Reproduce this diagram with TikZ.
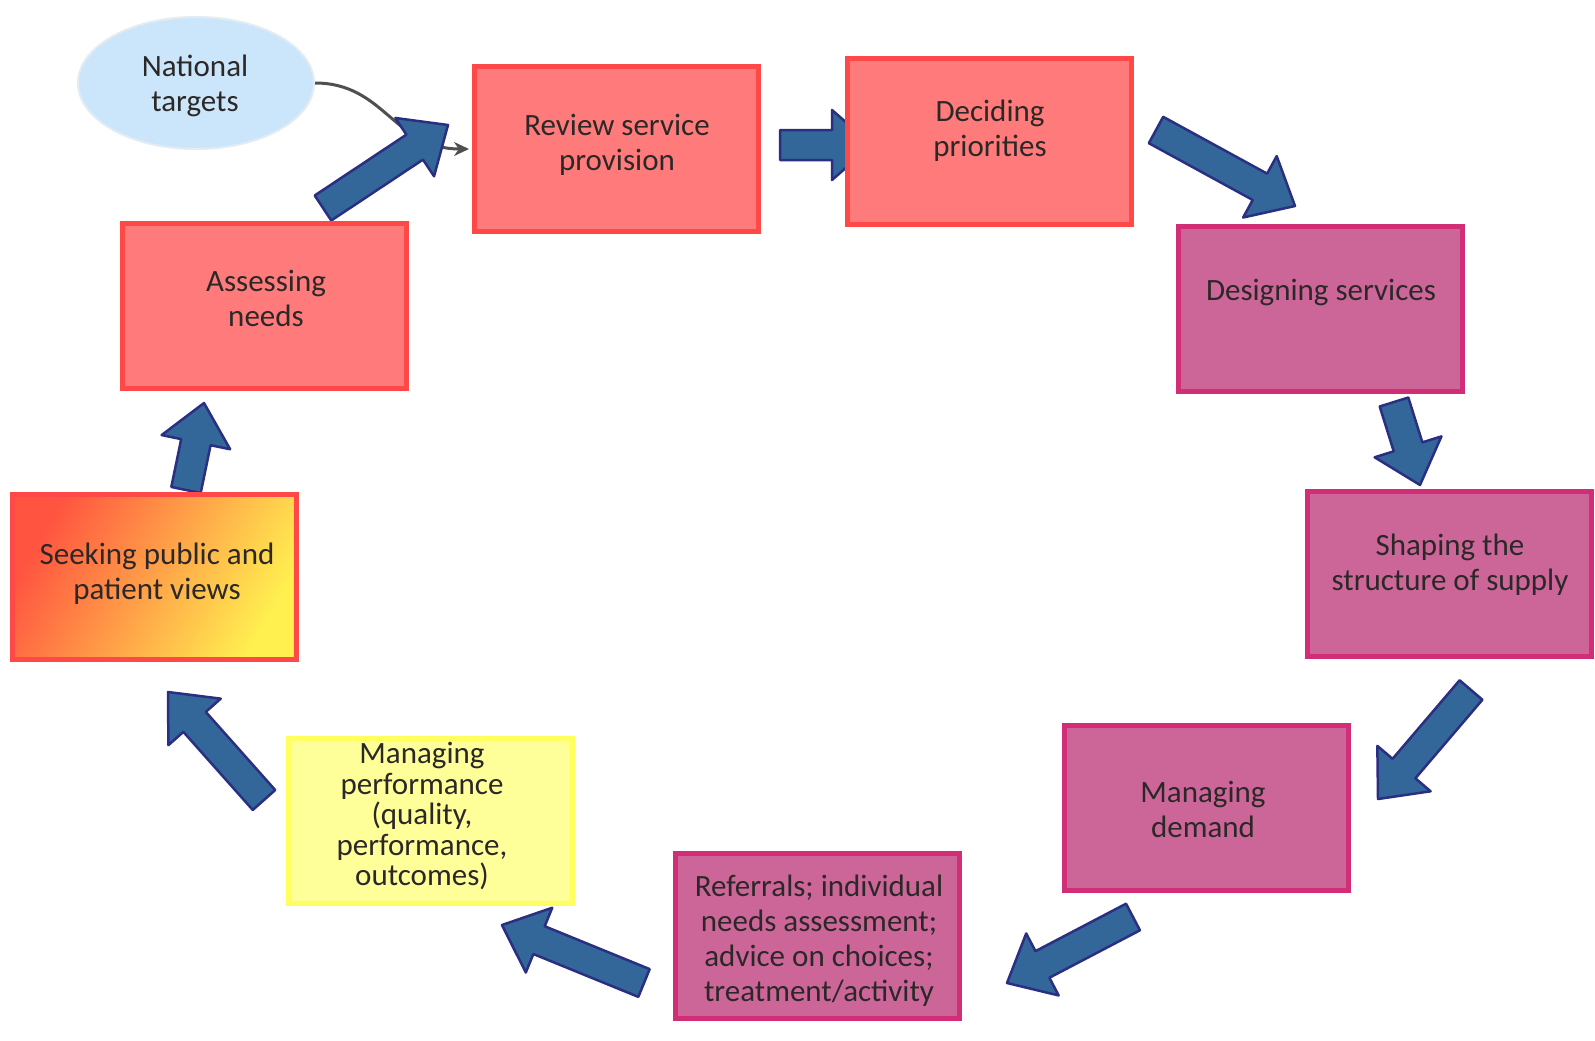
\documentclass[tikz,border=0pt]{standalone}
\usepackage{fontspec}
\setmainfont{Carlito}
\usetikzlibrary{shapes.geometric,calc,arrows.meta}

\definecolor{salmonfill}{HTML}{FF7B7B}
\definecolor{salmonline}{HTML}{FF4848}
\definecolor{plumfill}{HTML}{CC6699}
\definecolor{plumline}{HTML}{D22E78}
\definecolor{lemonfill}{HTML}{FFFF99}
\definecolor{lemonline}{HTML}{FFFF5E}
\definecolor{skyfill}{HTML}{CBE6FB}
\definecolor{skyline}{HTML}{E2ECF2}
\definecolor{seekred}{HTML}{FF5440}
\definecolor{seekorange}{HTML}{FF9A33}
\definecolor{seekyellow}{HTML}{FFF050}
\definecolor{arrowfill}{HTML}{336699}
\definecolor{arrowline}{HTML}{2B2F82}
\definecolor{feedline}{HTML}{505050}
\definecolor{inktext}{HTML}{2C2828}

\pgfdeclarelayer{paper}
\pgfdeclarelayer{behind}
\pgfsetlayers{paper,behind,main}

% block arrow from a tail coordinate to a tip coordinate
\newcommand\flowarrow[2]{%
  \coordinate (fa-base) at ($(#2)!40pt!(#1)$);
  \filldraw[flowarrow]
    ($(#1)!15pt!90:(#2)$) -- ($(fa-base)!15pt!90:(#2)$)
    -- ($(fa-base)!35pt!90:(#2)$) -- (#2)
    -- ($(fa-base)!35pt!-90:(#2)$) -- ($(fa-base)!15pt!-90:(#2)$)
    -- ($(#1)!15pt!-90:(#2)$) -- cycle;
}

\begin{document}
\begin{tikzpicture}[x=1pt,y=-1pt,
  box/.style={rectangle, minimum width=284pt, minimum height=165pt,
    inner sep=0pt, line width=5pt},
  redbox/.style={box, fill=salmonfill, draw=salmonline},
  pinkbox/.style={box, fill=plumfill, draw=plumline},
  yellowbox/.style={box, fill=lemonfill, draw=lemonline},
  caption/.style={align=center, text=inktext, inner sep=0pt,
    font=\fontsize{31}{35}\selectfont},
  tightcaption/.style={caption, font=\fontsize{31}{30.5}\selectfont},
  flowarrow/.style={fill=arrowfill, draw=arrowline, line width=2.5pt,
    line join=round},
  feed/.style={draw=feedline, line width=3pt,
    -{Stealth[length=15pt,width=14pt]}},
]
\useasboundingbox (0,0) rectangle (1595,1041);
\begin{pgfonlayer}{paper}
  \fill[white] (0,0) rectangle (1595,1041);
\end{pgfonlayer}

% stages of the cycle
\node[ellipse, minimum width=236pt, minimum height=132pt, fill=skyfill,
  draw=skyline, line width=2pt] (targets) at (196,83) {};
\node[redbox] (review) at (616.5,149) {};
\node[redbox] (deciding) at (989,141.5) {};
\node[pinkbox] (designing) at (1320,309) {};
\node[pinkbox] (shaping) at (1449.5,573.5) {};
\node[pinkbox] (demand) at (1206,807.5) {};
\node[pinkbox] (referrals) at (817.5,936) {};
\node[yellowbox] (performance) at (430,821) {};
\node[box, draw=salmonline, left color=seekred, middle color=seekorange,
  right color=seekyellow, shading angle=60] (seeking) at (154.5,576.5) {};
\node[redbox] (assessing) at (264.5,306) {};

% captions
\node[caption] (targets-text) at (195,86) {National\\targets};
\node[caption] (review-text) at (617,145) {Review service\\provision};
\node[caption] (deciding-text) at (990,131) {Deciding\\priorities};
\node[caption] (designing-text) at (1321,292) {Designing services};
\node[caption] (shaping-text) at (1450,565) {Shaping the\\structure of supply};
\node[caption] (demand-text) at (1203,809) {Managing\\demand};
\node[caption] (referrals-text) at (819,941)
  {Referrals; individual\\needs assessment;\\advice on choices;\\treatment/activity};
\node[tightcaption] (performance-text) at (422,816)
  {Managing\\performance\\(quality,\\performance,\\outcomes)};
\node[caption] (seeking-text) at (157,574) {Seeking public and\\patient views};
\node[caption] (assessing-text) at (266,298) {Assessing\\needs};

% arrows between the stages
\coordinate (a1t) at (323,208);   \coordinate (a1h) at (448,125);
\coordinate (a2t) at (780,145);   \coordinate (a2h) at (872,145);
\coordinate (a3t) at (1156,130);  \coordinate (a3h) at (1295,206);
\coordinate (a4t) at (1394,402);  \coordinate (a4h) at (1420,485);
\coordinate (a5t) at (1471,690);  \coordinate (a5h) at (1378,799);
\coordinate (a6t) at (1133,917);  \coordinate (a6h) at (1007,983);
\coordinate (a7t) at (644,983);   \coordinate (a7h) at (502,925);
\coordinate (a8t) at (264,800);   \coordinate (a8h) at (168,692);
\coordinate (a9t) at (186,490);   \coordinate (a9h) at (204,403);

\begin{pgfonlayer}{behind}
  \draw[feed] (targets.east) .. controls +(70,0) and +(-75,0)
    .. ([xshift=-3pt]review.west);
  \flowarrow{a1t}{a1h}
  \flowarrow{a2t}{a2h}
  \flowarrow{a3t}{a3h}
  \flowarrow{a4t}{a4h}
  \flowarrow{a5t}{a5h}
  \flowarrow{a6t}{a6h}
  \flowarrow{a7t}{a7h}
  \flowarrow{a8t}{a8h}
  \flowarrow{a9t}{a9h}
\end{pgfonlayer}
\end{tikzpicture}
\end{document}
